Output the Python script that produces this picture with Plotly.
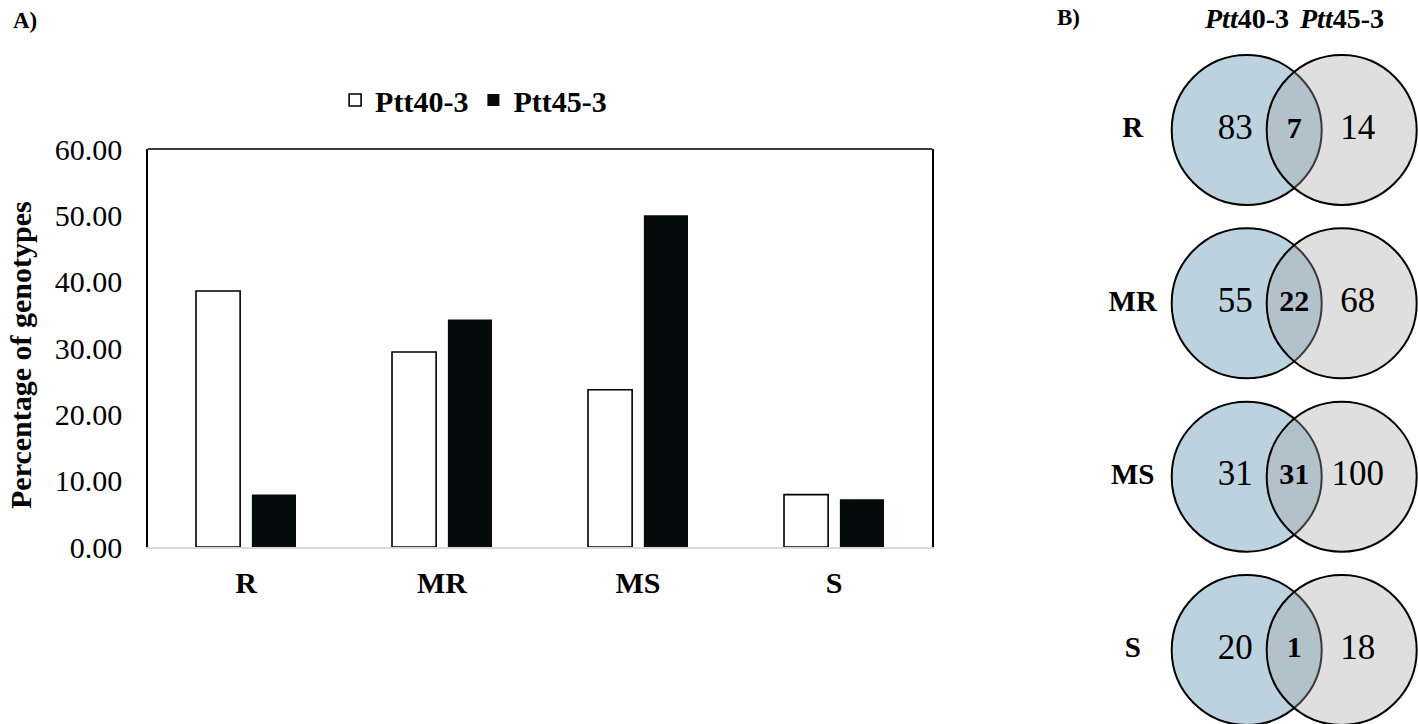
import plotly.graph_objects as go

# ---------------- data ----------------
categories = ["R", "MR", "MS", "S"]
ptt40_pct = [38.6, 29.4, 23.7, 7.9]
ptt45_pct = [7.9, 34.3, 50.0, 7.2]
series_names = ["Ptt40-3", "Ptt45-3"]
y_ticks = [0, 10, 20, 30, 40, 50, 60]

venn_rows = ["R", "MR", "MS", "S"]
venn_ptt40_only = [83, 55, 31, 20]
venn_shared = [7, 22, 31, 1]
venn_ptt45_only = [14, 68, 100, 18]

FONT = "Liberation Serif"
W, H = 1418, 724

fig = go.Figure()

# ---------------- panel A: bars ----------------
fig.add_trace(go.Bar(
    x=categories, y=ptt40_pct, name="<b>" + series_names[0] + "</b>",
    marker=dict(color="white", line=dict(color="black", width=1.6)),
    xaxis="x", yaxis="y"))
fig.add_trace(go.Bar(
    x=categories, y=ptt45_pct, name="<b>" + series_names[1] + "</b>",
    marker=dict(color="#050a0a", line=dict(color="#050a0a", width=0)),
    xaxis="x", yaxis="y"))

# ---------------- panel B: venn ----------------
n = len(venn_rows)
rows_idx = list(range(n))
LEFT_C, RIGHT_C = 0.0, 1.0          # circle centres (x2 units)
RX = 75 / 95                        # radius in x2 units
RY = 75 / 173.33                    # radius in y2 units

for i in rows_idx:
    fig.add_shape(type="circle", xref="x2", yref="y2", layer="below",
                  x0=LEFT_C - RX, x1=LEFT_C + RX, y0=i - RY, y1=i + RY,
                  fillcolor="rgb(188,211,223)", line=dict(color="black", width=2))
    fig.add_shape(type="circle", xref="x2", yref="y2", layer="below",
                  x0=RIGHT_C - RX, x1=RIGHT_C + RX, y0=i - RY, y1=i + RY,
                  fillcolor="rgba(164,164,164,0.35)", line=dict(color="black", width=2))

fig.add_trace(go.Scatter(
    x=[LEFT_C - 0.12] * n, y=rows_idx, mode="text",
    text=[str(v) for v in venn_ptt40_only],
    textfont=dict(family=FONT, size=35, color="black"),
    xaxis="x2", yaxis="y2", showlegend=False, hoverinfo="skip"))
fig.add_trace(go.Scatter(
    x=[(LEFT_C + RIGHT_C) / 2] * n, y=rows_idx, mode="text",
    text=["<b>" + str(v) + "</b>" for v in venn_shared],
    textfont=dict(family=FONT, size=30, color="black"),
    xaxis="x2", yaxis="y2", showlegend=False, hoverinfo="skip"))
fig.add_trace(go.Scatter(
    x=[RIGHT_C + 0.17] * n, y=rows_idx, mode="text",
    text=[str(v) for v in venn_ptt45_only],
    textfont=dict(family=FONT, size=35, color="black"),
    xaxis="x2", yaxis="y2", showlegend=False, hoverinfo="skip"))
fig.add_trace(go.Scatter(
    x=[-1.2] * n, y=rows_idx, mode="text",
    text=["<b>" + r + "</b>" for r in venn_rows],
    textfont=dict(family=FONT, size=29, color="black"),
    xaxis="x2", yaxis="y2", showlegend=False, hoverinfo="skip"))

# venn headers
for cx, nm in zip([LEFT_C, RIGHT_C], series_names):
    pre, post = nm[:3], nm[3:]
    fig.add_annotation(x=cx, y=-0.645, xref="x2", yref="y2",
                       xanchor="center", yanchor="middle",
                       text="<b><i>" + pre + "</i>" + post + "</b>",
                       showarrow=False, font=dict(family=FONT, size=28, color="black"))

# ---------------- layout ----------------
px_l, px_r, px_t, px_b = 148, 932, 149, 547
x2_left_px, x2_right_px = 1050, 1418
fig.update_layout(
    width=W, height=H,
    autosize=False,
    margin=dict(l=0, r=0, t=0, b=0, pad=0),
    paper_bgcolor="white", plot_bgcolor="white",
    font=dict(family=FONT, color="black"),
    barmode="group", bargap=0.43, bargroupgap=0.21,
    showlegend=True,
    legend=dict(orientation="h", x=0.334, xanchor="center", y=1 - 100 / H, yanchor="middle",
                font=dict(family=FONT, size=30, color="black"),
                bgcolor="rgba(0,0,0,0)", itemclick=False, traceorder="normal"),
    xaxis=dict(domain=[px_l / W, px_r / W], anchor="y", automargin=False,
               showline=True, linecolor="#d9d9d9", linewidth=2,
               showgrid=False, zeroline=False, ticks="",
               tickmode="array", tickvals=categories,
               ticktext=["<b>" + c + "</b>" for c in categories],
               tickfont=dict(family=FONT, size=30, color="black"),
               ticklabelstandoff=8),
    yaxis=dict(domain=[1 - px_b / H, 1 - px_t / H], anchor="x", automargin=False,
               range=[0, 60], tickmode="array", tickvals=y_ticks,
               ticktext=[f"{v:.2f}" for v in y_ticks],
               showline=True, linecolor="black", linewidth=1.6, mirror=True,
               showgrid=False, zeroline=False, ticks="",
               tickfont=dict(family=FONT, size=30, color="black"),
               ticklabelstandoff=18),
    xaxis2=dict(domain=[x2_left_px / W, x2_right_px / W], anchor="y2", automargin=False,
                range=[(x2_left_px - 1246.7) / 95, (x2_right_px - 1246.7) / 95],
                visible=False, fixedrange=True),
    yaxis2=dict(domain=[0, 1], anchor="x2", automargin=False,
                range=[(H - 130) / 173.33, -130 / 173.33],
                visible=False, fixedrange=True),
)

# top border of the bar plot frame
fig.add_shape(type="line", xref="x domain", yref="y domain", x0=0, x1=1, y0=1, y1=1,
              line=dict(color="black", width=1.6))

# y-axis title & panel letters
fig.add_annotation(x=20 / W, y=1 - 355 / H, xref="paper", yref="paper",
                   xanchor="center", yanchor="middle",
                   text="<b>Percentage of genotypes</b>", textangle=-90, showarrow=False,
                   font=dict(family=FONT, size=30, color="black"))
fig.add_annotation(x=25 / W, y=1 - 20 / H, xref="paper", yref="paper",
                   xanchor="center", yanchor="middle",
                   text="<b>A)</b>", showarrow=False,
                   font=dict(family=FONT, size=23, color="black"))
fig.add_annotation(x=1068 / W, y=1 - 18 / H, xref="paper", yref="paper",
                   xanchor="center", yanchor="middle",
                   text="<b>B)</b>", showarrow=False,
                   font=dict(family=FONT, size=23, color="black"))

fig.write_html("out.html", config={"displayModeBar": False},
               post_script="document.body.style.margin='0';")
